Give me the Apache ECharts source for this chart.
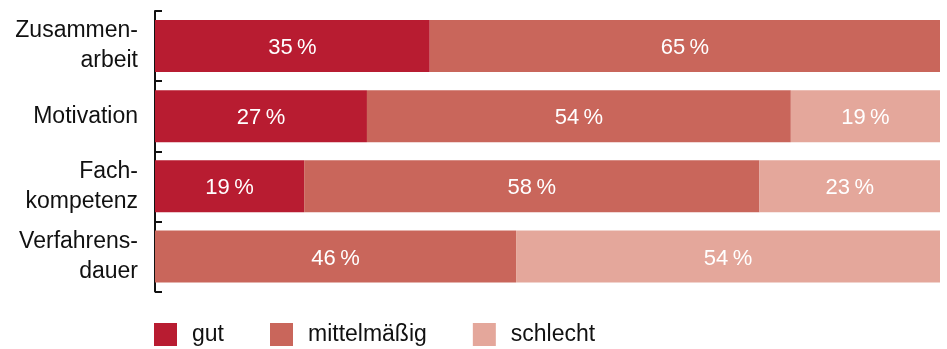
<!DOCTYPE html>
<html>
<head>
<meta charset="utf-8">
<script src="https://cdn.jsdelivr.net/npm/echarts@6/dist/echarts.min.js"></script>
<style>
  html, body { margin: 0; padding: 0; background: #fff; }
  #chart { width: 947px; height: 349px; }
</style>
</head>
<body>
<div id="chart"></div>
<script>
// Bewertung nach Kategorie (Anteile in Prozent)
const categories = ['Zusammen-\narbeit', 'Motivation', 'Fach-\nkompetenz', 'Verfahrens-\ndauer'];
const seriesNames = ['gut', 'mittelmäßig', 'schlecht'];
const gut = [35, 27, 19, null];
const mittelmaessig = [65, 54, 58, 46];
const schlecht = [null, 19, 23, 54];
const colors = ['#B81C31', '#C9665B', '#E4A79B'];

const FONT = '"Liberation Sans", Arial, Helvetica, sans-serif';
const values = [gut, mittelmaessig, schlecht];

const chart = echarts.init(document.getElementById('chart'), null, { renderer: 'canvas' });

chart.setOption({
  animation: false,
  textStyle: { fontFamily: FONT },
  grid: { left: 155, right: 7, top: 11, bottom: 57.5, containLabel: false },
  xAxis: {
    type: 'value',
    min: 0,
    max: 100,
    show: false
  },
  yAxis: {
    type: 'category',
    data: categories,
    inverse: true,
    axisLine: { show: true, lineStyle: { color: '#111', width: 2 } },
    axisTick: { show: true, inside: true, length: 7, lineStyle: { color: '#111', width: 2 } },
    axisLabel: {
      interval: 0,
      color: '#111',
      fontSize: 23,
      fontFamily: FONT,
      lineHeight: 30,
      margin: 17,
      align: 'right',
      padding: [8, 0, 0, 0]
    }
  },
  legend: {
    bottom: 3,
    left: 154,
    padding: 0,
    itemWidth: 23,
    itemHeight: 23,
    itemGap: 46,
    icon: 'rect',
    data: seriesNames,
    textStyle: { fontSize: 23, color: '#111', fontFamily: FONT, padding: [0, 0, 0, 10] }
  },
  series: seriesNames.map((name, i) => ({
    name,
    type: 'bar',
    stack: 'total',
    barWidth: 52,
    data: values[i],
    itemStyle: { color: colors[i] },
    label: {
      show: true,
      position: 'inside',
      offset: [0, 2],
      color: '#fff',
      fontSize: 22,
      fontFamily: FONT,
      formatter: p => p.value == null ? '' : p.value + '\u2009%'
    }
  }))
});
</script>
</body>
</html>
